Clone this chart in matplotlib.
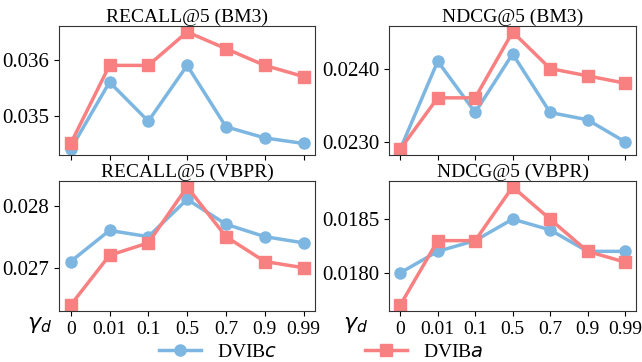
import matplotlib.pyplot as plt

plt.rcParams["font.family"] = "serif"
plt.rcParams["font.serif"] = ["Liberation Serif", "Times New Roman", "DejaVu Serif"]
plt.rcParams["mathtext.fontset"] = "dejavusans"

x_labels = ["0", "0.01", "0.1", "0.5", "0.7", "0.9", "0.99"]

recall_bm3_c = [0.0344, 0.0356, 0.0349, 0.0359, 0.0348, 0.0346, 0.0345]
recall_bm3_a = [0.0345, 0.0359, 0.0359, 0.0365, 0.0362, 0.0359, 0.0357]
ndcg_bm3_c = [0.0229, 0.0241, 0.0234, 0.0242, 0.0234, 0.0233, 0.0230]
ndcg_bm3_a = [0.0229, 0.0236, 0.0236, 0.0245, 0.0240, 0.0239, 0.0238]
recall_vbpr_c = [0.0271, 0.0276, 0.0275, 0.0281, 0.0277, 0.0275, 0.0274]
recall_vbpr_a = [0.0264, 0.0272, 0.0274, 0.0283, 0.0275, 0.0271, 0.0270]
ndcg_vbpr_c = [0.0180, 0.0182, 0.0183, 0.0185, 0.0184, 0.0182, 0.0182]
ndcg_vbpr_a = [0.0177, 0.0183, 0.0183, 0.0188, 0.0185, 0.0182, 0.0181]

blue = "#7db7e1"
red = "#f98080"

fig = plt.figure(figsize=(6.42, 3.62), dpi=100)

panels = [
    ([0.092, 0.572, 0.399, 0.356], "RECALL@5 (BM3)", recall_bm3_c, recall_bm3_a,
     [0.035, 0.036], "%.3f", False, None),
    ([0.606, 0.572, 0.385, 0.356], "NDCG@5 (BM3)", ndcg_bm3_c, ndcg_bm3_a,
     [0.0230, 0.0240], "%.4f", False, None),
    ([0.092, 0.141, 0.399, 0.359], "RECALL@5 (VBPR)", recall_vbpr_c, recall_vbpr_a,
     [0.027, 0.028], "%.3f", True, -0.078),
    ([0.606, 0.141, 0.385, 0.359], "NDCG@5 (VBPR)", ndcg_vbpr_c, ndcg_vbpr_a,
     [0.0180, 0.0185], "%.4f", True, -0.134),
]

xs = list(range(len(x_labels)))
for rect, title, c_vals, a_vals, yticks, fmt, show_x, gx in panels:
    ax = fig.add_axes(rect)
    l1, = ax.plot(xs, c_vals, color=blue, lw=2.5, marker="o", ms=8, label=r"DVIB$c$")
    l2, = ax.plot(xs, a_vals, color=red, lw=2.5, marker="s", ms=8, label=r"DVIB$a$")
    ax.set_title(title, fontsize=14, pad=2)
    ax.set_yticks(yticks)
    ax.set_yticklabels([fmt % v for v in yticks], fontsize=15)
    ax.set_xticks(xs)
    if show_x:
        ax.set_xticklabels(x_labels, fontsize=14)
        ax.text(gx, -0.11, r"$\gamma_d$", transform=ax.transAxes,
                fontsize=16, ha="center", va="center")
    else:
        ax.set_xticklabels([])
    for s in ax.spines.values():
        s.set_color("#333333")

fig.legend(handles=[l1, l2], loc="lower center", bbox_to_anchor=(0.5, -0.045),
           ncol=2, frameon=False, fontsize=14, handlelength=2.2, columnspacing=4.5)

fig.savefig("out.png", dpi=100)
